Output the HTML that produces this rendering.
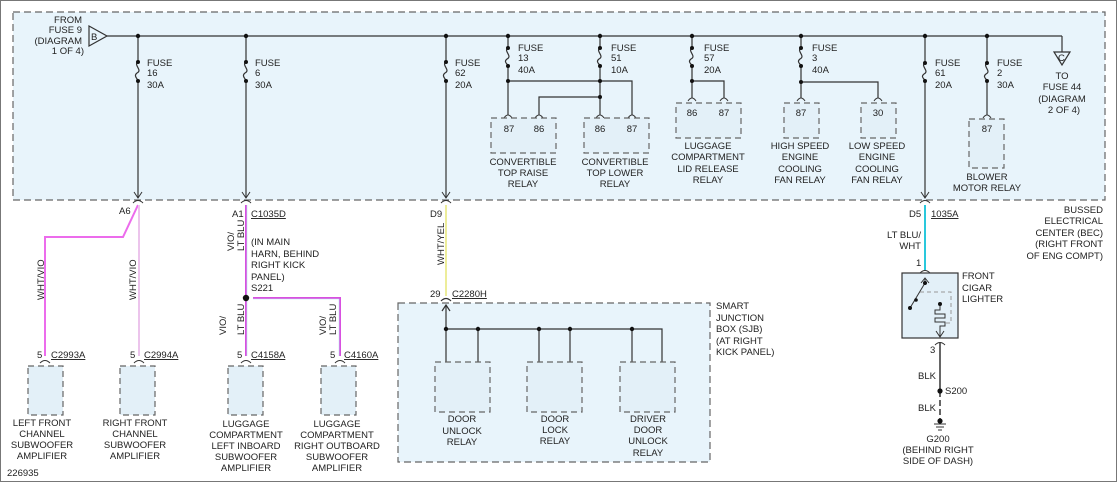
<!DOCTYPE html>
<html><head><meta charset="utf-8"><style>
html,body{margin:0;padding:0;background:#fff;}
svg{display:block;}
text{font-family:"Liberation Sans",sans-serif;font-size:9.5px;fill:#222;}
</style></head><body>
<svg width="1118" height="483" viewBox="0 0 1118 483" xmlns="http://www.w3.org/2000/svg">
<rect x="0.5" y="0.5" width="1116" height="481" fill="#fff" stroke="#777" stroke-width="1"/>
<!-- BEC box -->
<rect x="13" y="12" width="1092" height="188" fill="#e8f4fb" stroke="#666" stroke-width="1.2" stroke-dasharray="7,4"/>
<g stroke="#333" stroke-width="1.2" fill="none">
<!-- bus -->
<line x1="107" y1="36" x2="1062" y2="36"/>
<line x1="1062" y1="36" x2="1062" y2="52"/>
<polygon points="1054,52 1070,52 1062,65" fill="#e8f4fb"/>
<polygon points="89,26 89,46 107,36" fill="#e8f4fb"/>
<!-- fuse 16, 6, 62 -->
<path d="M138,36 V62 c-5,3 5,8 -1,11 c-4,3 1,6 1,8 V198"/>
<path d="M246,36 V62 c-5,3 5,8 -1,11 c-4,3 1,6 1,8 V198"/>
<path d="M446,36 V62 c-5,3 5,8 -1,11 c-4,3 1,6 1,8 V198"/>
<!-- fuse 13 / 51 -->
<path d="M508,36 V48 c-5,3 5,8 -1,11 c-4,3 1,5 1,7 V115"/>
<path d="M600,36 V48 c-5,3 5,8 -1,11 c-4,3 1,5 1,7 V115"/>
<path d="M508,81 H632 V115"/>
<path d="M600,97 H539 V115"/>
<!-- fuse 57 -->
<path d="M692,36 V48 c-5,3 5,8 -1,11 c-4,3 1,5 1,7 V98"/>
<path d="M692,81 H724 V98"/>
<!-- fuse 3 -->
<path d="M801,36 V48 c-5,3 5,8 -1,11 c-4,3 1,5 1,7 V98"/>
<path d="M801,82 H878 V98"/>
<!-- fuse 61 -->
<path d="M925,36 V63 c-5,3 5,8 -1,11 c-4,3 1,5 1,7 V198"/>
<!-- fuse 2 -->
<path d="M987,36 V63 c-5,3 5,8 -1,11 c-4,3 1,5 1,7 V115"/>
</g>
<!-- arrows at bottom of BEC -->
<g stroke="#333" stroke-width="1" fill="none">
<path d="M134,192 L138,198 L142,192"/><path d="M133,203 q5,-5 10,0"/>
<path d="M242,192 L246,198 L250,192"/><path d="M241,203 q5,-5 10,0"/>
<path d="M442,192 L446,198 L450,192"/><path d="M441,203 q5,-5 10,0"/>
<path d="M921,192 L925,198 L929,192"/><path d="M920,203 q5,-5 10,0"/>
<!-- pin arcs -->
<path d="M504,118 q4,-6 8,0"/><path d="M535,118 q4,-6 8,0"/>
<path d="M596,118 q4,-6 8,0"/><path d="M628,118 q4,-6 8,0"/>
<path d="M688,101 q4,-6 8,0"/><path d="M720,101 q4,-6 8,0"/>
<path d="M797,101 q4,-6 8,0"/><path d="M874,101 q4,-6 8,0"/>
<path d="M983,118 q4,-6 8,0"/>
</g>
<g fill="#111">
<circle cx="138" cy="36" r="2.2"/><circle cx="246" cy="36" r="2.2"/><circle cx="446" cy="36" r="2.2"/>
<circle cx="508" cy="36" r="2.2"/><circle cx="600" cy="36" r="2.2"/><circle cx="692" cy="36" r="2.2"/>
<circle cx="801" cy="36" r="2.2"/><circle cx="925" cy="36" r="2.2"/><circle cx="987" cy="36" r="2.2"/>
<circle cx="138" cy="62" r="2"/><circle cx="138" cy="81" r="2"/>
<circle cx="246" cy="62" r="2"/><circle cx="246" cy="81" r="2"/>
<circle cx="446" cy="62" r="2"/><circle cx="446" cy="81" r="2"/>
<circle cx="508" cy="48" r="2"/><circle cx="508" cy="66" r="2"/>
<circle cx="600" cy="48" r="2"/><circle cx="600" cy="66" r="2"/>
<circle cx="692" cy="48" r="2"/><circle cx="692" cy="66" r="2"/>
<circle cx="801" cy="48" r="2"/><circle cx="801" cy="66" r="2"/>
<circle cx="925" cy="63" r="2"/><circle cx="925" cy="81" r="2"/>
<circle cx="987" cy="63" r="2"/><circle cx="987" cy="81" r="2"/>
<circle cx="508" cy="81" r="2"/><circle cx="600" cy="81" r="2"/><circle cx="600" cy="97" r="2"/>
<circle cx="692" cy="81" r="2"/><circle cx="801" cy="82" r="2"/>
</g>
<!-- relay boxes -->
<g fill="#e3f0f8" stroke="#666" stroke-width="1.2" stroke-dasharray="6,4">
<rect x="491" y="118" width="65" height="35"/>
<rect x="584" y="118" width="65" height="35"/>
<rect x="676" y="103" width="65" height="35"/>
<rect x="784" y="103" width="35" height="35"/>
<rect x="861" y="103" width="35" height="35"/>
<rect x="969" y="119" width="35" height="49"/>
</g>
<g text-anchor="middle">
<text x="509" y="132">87</text><text x="539" y="132">86</text>
<text x="600" y="132">86</text><text x="632" y="132">87</text>
<text x="692" y="116">86</text><text x="724" y="116">87</text>
<text x="801" y="116">87</text><text x="878" y="116">30</text>
<text x="987" y="132">87</text>
<text x="523" y="165">CONVERTIBLE</text><text x="523" y="176">TOP RAISE</text><text x="523" y="187">RELAY</text>
<text x="615" y="165">CONVERTIBLE</text><text x="615" y="176">TOP LOWER</text><text x="615" y="187">RELAY</text>
<text x="708" y="149">LUGGAGE</text><text x="708" y="160">COMPARTMENT</text><text x="708" y="172">LID RELEASE</text><text x="708" y="183">RELAY</text>
<text x="800" y="149">HIGH SPEED</text><text x="800" y="160">ENGINE</text><text x="800" y="172">COOLING</text><text x="800" y="183">FAN RELAY</text>
<text x="877" y="149">LOW SPEED</text><text x="877" y="160">ENGINE</text><text x="877" y="172">COOLING</text><text x="877" y="183">FAN RELAY</text>
<text x="987" y="180">BLOWER</text><text x="987" y="191">MOTOR RELAY</text>
<text x="1062" y="79">TO</text><text x="1062" y="90">FUSE 44</text><text x="1062" y="102">(DIAGRAM</text><text x="1064" y="113">2 OF 4)</text>
</g>
<text x="1058" y="61" font-size="8">C</text>
<text x="91" y="40" font-size="8">B</text>
<g text-anchor="end">
<text x="82" y="23">FROM</text><text x="82" y="33">FUSE 9</text><text x="82" y="44">(DIAGRAM</text><text x="84" y="54">1 OF 4)</text>
<text x="1103" y="213">BUSSED</text><text x="1103" y="224">ELECTRICAL</text><text x="1103" y="236">CENTER (BEC)</text><text x="1103" y="247">(RIGHT FRONT</text><text x="1103" y="259">OF ENG COMPT)</text>
</g>
<g>
<text x="147" y="66">FUSE</text><text x="147" y="76">16</text><text x="147" y="88">30A</text>
<text x="255" y="66">FUSE</text><text x="255" y="76">6</text><text x="255" y="88">30A</text>
<text x="455" y="66">FUSE</text><text x="455" y="76">62</text><text x="455" y="88">20A</text>
<text x="518" y="51">FUSE</text><text x="518" y="61">13</text><text x="518" y="73">40A</text>
<text x="611" y="51">FUSE</text><text x="611" y="61">51</text><text x="611" y="73">10A</text>
<text x="704" y="51">FUSE</text><text x="704" y="61">57</text><text x="704" y="73">20A</text>
<text x="812" y="51">FUSE</text><text x="812" y="61">3</text><text x="812" y="73">40A</text>
<text x="935" y="66">FUSE</text><text x="935" y="76">61</text><text x="935" y="88">20A</text>
<text x="997" y="66">FUSE</text><text x="997" y="76">2</text><text x="997" y="88">30A</text>
</g>
<!-- connector labels -->
<text x="119" y="214">A6</text>
<text x="232" y="217">A1</text><text x="251" y="217" text-decoration="underline">C1035D</text>
<text x="430" y="217">D9</text>
<text x="909" y="217">D5</text><text x="931" y="217" text-decoration="underline">1035A</text>
<!-- wires -->
<g fill="none" stroke-width="2">
<path d="M138,205 L123,237 H45 V356" stroke="#ec6cec"/>
<path d="M139,205 V356" stroke="#ecc4ec"/>
<path d="M246,205 V356" stroke="#d850e0"/>
<path d="M253,298 H340 V356" stroke="#d850e0"/>
<path d="M446,205 V296" stroke="#eded9a"/>
<path d="M925,205 V270" stroke="#2ac8dc"/>
</g>
<g fill="none" stroke="#b8e8f0" stroke-width="0.6">
<path d="M247,205 V356"/><path d="M253,299 H339 V356"/>
</g>
<circle cx="246" cy="298" r="3.2" fill="#111"/>
<g font-size="9">
<text transform="translate(44,300) rotate(-90)">WHT/VIO</text>
<text transform="translate(136,300) rotate(-90)">WHT/VIO</text>
<text transform="translate(234,251) rotate(-90)">VIO/</text>
<text transform="translate(244,251) rotate(-90)">LT BLU</text>
<text transform="translate(326,335) rotate(-90)">VIO/</text>
<text transform="translate(336,335) rotate(-90)">LT BLU</text>
<text transform="translate(226,335) rotate(-90)">VIO/</text>
<text transform="translate(244,335) rotate(-90)">LT BLU</text>
<text transform="translate(444,265) rotate(-90)">WHT/YEL</text>
</g>
<text x="251" y="245">(IN MAIN</text><text x="251" y="257">HARN, BEHIND</text><text x="251" y="268">RIGHT KICK</text><text x="251" y="280">PANEL)</text><text x="251" y="291">S221</text>
<!-- bottom amps -->
<g fill="none" stroke="#333" stroke-width="1">
<path d="M40,363 q5,-5 10,0"/><path d="M134,363 q5,-5 10,0"/><path d="M241,363 q5,-5 10,0"/><path d="M335,363 q5,-5 10,0"/>
</g>
<g fill="#e3f0f8" stroke="#666" stroke-width="1.2" stroke-dasharray="6,4">
<rect x="28" y="366" width="35" height="49"/>
<rect x="120" y="366" width="35" height="49"/>
<rect x="228" y="366" width="35" height="49"/>
<rect x="321" y="366" width="35" height="49"/>
</g>
<text x="37" y="358">5</text><text x="51" y="358" text-decoration="underline">C2993A</text>
<text x="130" y="358">5</text><text x="144" y="358" text-decoration="underline">C2994A</text>
<text x="237" y="358">5</text><text x="251" y="358" text-decoration="underline">C4158A</text>
<text x="330" y="358">5</text><text x="344" y="358" text-decoration="underline">C4160A</text>
<g text-anchor="middle">
<text x="42" y="426">LEFT FRONT</text><text x="42" y="437">CHANNEL</text><text x="42" y="448">SUBWOOFER</text><text x="42" y="459">AMPLIFIER</text>
<text x="135" y="426">RIGHT FRONT</text><text x="135" y="437">CHANNEL</text><text x="135" y="448">SUBWOOFER</text><text x="135" y="459">AMPLIFIER</text>
<text x="246" y="427">LUGGAGE</text><text x="246" y="438">COMPARTMENT</text><text x="246" y="449">LEFT INBOARD</text><text x="246" y="460">SUBWOOFER</text><text x="246" y="471">AMPLIFIER</text>
<text x="337" y="427">LUGGAGE</text><text x="337" y="438">COMPARTMENT</text><text x="337" y="449">RIGHT OUTBOARD</text><text x="337" y="460">SUBWOOFER</text><text x="337" y="471">AMPLIFIER</text>
</g>
<text x="7" y="476">226935</text>
<!-- SJB -->
<rect x="398" y="303" width="312" height="159" fill="#e8f4fb" stroke="#666" stroke-width="1.2" stroke-dasharray="7,4"/>
<text x="430" y="297">29</text><text x="452" y="297" text-decoration="underline">C2280H</text>
<g fill="none" stroke="#333" stroke-width="1.2">
<path d="M441,301 q5,-5 10,0"/>
<path d="M442,311 L446,305 L450,311"/>
<path d="M446,305 V362"/><path d="M446,329 H662 V362"/>
<path d="M478,329 V362"/><path d="M539,329 V362"/><path d="M570,329 V362"/><path d="M632,329 V362"/>
</g>
<g fill="#111"><circle cx="446" cy="329" r="2.2"/><circle cx="478" cy="329" r="2.2"/><circle cx="539" cy="329" r="2.2"/><circle cx="570" cy="329" r="2.2"/><circle cx="632" cy="329" r="2.2"/></g>
<g fill="#e3f0f8" stroke="#666" stroke-width="1.2" stroke-dasharray="6,4">
<rect x="435" y="362" width="55" height="50"/>
<rect x="527" y="362" width="55" height="50"/>
<rect x="620" y="362" width="55" height="50"/>
</g>
<g text-anchor="middle">
<text x="462" y="422">DOOR</text><text x="462" y="434">UNLOCK</text><text x="462" y="445">RELAY</text>
<text x="555" y="422">DOOR</text><text x="555" y="433">LOCK</text><text x="555" y="444">RELAY</text>
<text x="648" y="422">DRIVER</text><text x="648" y="433">DOOR</text><text x="648" y="444">UNLOCK</text><text x="648" y="456">RELAY</text>
</g>
<text x="716" y="309">SMART</text><text x="716" y="321">JUNCTION</text><text x="716" y="332">BOX (SJB)</text><text x="716" y="344">(AT RIGHT</text><text x="716" y="355">KICK PANEL)</text>
<!-- cigar lighter -->
<text x="921" y="238" text-anchor="end">LT BLU/</text><text x="921" y="249" text-anchor="end">WHT</text>
<text x="916" y="266">1</text>
<rect x="902" y="273" width="56" height="65" fill="#e3f0f8" stroke="#333" stroke-width="1.2"/>
<g fill="none" stroke="#333" stroke-width="1">
<path d="M920,273 q5,-5 10,0"/>
<path d="M921,283 L925,278 L929,283"/>
<path d="M925,278 V282"/>
<path d="M925,283 L910,308"/>
<path d="M920,292 H951 V323 H945" stroke="#999" stroke-dasharray="4,3"/>
<path d="M940,305 V310 H935 V314 H945 V318 H935 V322 H945 V326 H940 V337"/>
<path d="M936,331 L940,337 L944,331"/>
<path d="M935,345 q5,-5 10,0"/>
</g>
<g fill="#111"><circle cx="925" cy="283" r="2"/><circle cx="910" cy="308" r="2"/><circle cx="916" cy="300" r="1.8"/><circle cx="940" cy="304" r="2"/></g>
<text x="962" y="279">FRONT</text><text x="962" y="291">CIGAR</text><text x="962" y="302">LIGHTER</text>
<text x="930" y="353">3</text>
<line x1="940" y1="343" x2="940" y2="391" stroke="#333" stroke-width="1.5"/>
<line x1="940" y1="391" x2="940" y2="420" stroke="#333" stroke-width="1.5" stroke-dasharray="6,3"/>
<circle cx="940" cy="391" r="2.6" fill="#111"/>
<text x="936" y="379" text-anchor="end">BLK</text><text x="945" y="394">S200</text><text x="936" y="411" text-anchor="end">BLK</text>
<circle cx="940" cy="421" r="2.6" fill="#111"/>
<g stroke="#333" stroke-width="1"><line x1="934" y1="424" x2="946" y2="424"/><line x1="936" y1="427" x2="944" y2="427"/><line x1="938" y1="430" x2="942" y2="430"/></g>
<g text-anchor="middle"><text x="938" y="442">G200</text><text x="938" y="453">(BEHIND RIGHT</text><text x="938" y="464">SIDE OF DASH)</text></g>
</svg>
</body></html>
